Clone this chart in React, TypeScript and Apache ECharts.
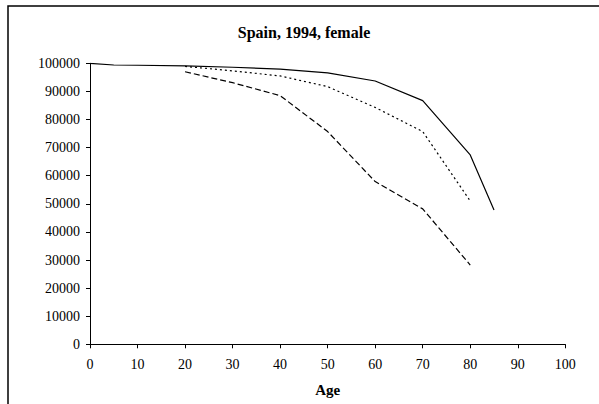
import React, { useEffect, useRef } from "react";
import * as echarts from "echarts";

const solidAges = [0, 5, 10, 20, 30, 40, 50, 60, 70, 80, 85];
const solidValues = [100000, 99400, 99300, 99050, 98600, 97950, 96600, 93700, 86700, 67400, 47800];

const dottedAges = [20, 30, 40, 50, 60, 70, 80];
const dottedValues = [98900, 97300, 95500, 91700, 84300, 75700, 51000];

const dashedAges = [20, 30, 40, 50, 60, 70, 80];
const dashedValues = [97000, 93100, 88500, 75700, 57900, 48200, 28200];

const titleText = "Spain, 1994, female";
const xName = "Age";

const FONT = "'Liberation Serif', 'DejaVu Serif', serif";

function pairs(xs: number[], ys: number[]) {
  return xs.map((x, i) => [x, ys[i]]);
}

export default function App() {
  const ref = useRef<HTMLDivElement>(null);
  useEffect(() => {
    if (!ref.current) return;
    const chart = echarts.init(ref.current, null, { renderer: "svg" });
    const lineBase = { type: "line", showSymbol: false, symbol: "none", silent: true };
    chart.setOption({
      animation: false,
      backgroundColor: "#fff",
      title: {
        text: titleText,
        left: 304,
        top: 24,
        padding: 0,
        textAlign: "center",
        textStyle: { fontFamily: FONT, fontSize: 16, fontWeight: "bold", color: "#000" },
      },
      graphic: [
        {
          type: "rect",
          shape: { x: 8, y: 6, width: 620, height: 420 },
          style: { fill: "none", stroke: "#000", lineWidth: 1.5 },
          silent: true,
        },
      ],
      grid: { left: 90, top: 63.3, right: 33.7, bottom: 59.7, containLabel: false },
      xAxis: {
        type: "value",
        min: 0,
        max: 100,
        interval: 10,
        name: xName,
        nameLocation: "middle",
        nameGap: 38,
        nameTextStyle: { fontFamily: FONT, fontSize: 15, fontWeight: "bold", color: "#000" },
        axisLine: { lineStyle: { color: "#000", width: 1 } },
        axisTick: { show: true, inside: false, length: 4, lineStyle: { color: "#000" } },
        axisLabel: { fontFamily: FONT, fontSize: 14, color: "#000", margin: 13 },
        splitLine: { show: false },
      },
      yAxis: {
        type: "value",
        min: 0,
        max: 100000,
        interval: 10000,
        axisLine: { show: true, lineStyle: { color: "#000", width: 1 } },
        axisTick: { show: true, inside: false, length: 4, lineStyle: { color: "#000" } },
        axisLabel: {
          fontFamily: FONT,
          fontSize: 14,
          color: "#000",
          margin: 10,
          formatter: (v: number) => String(v),
        },
        splitLine: { show: false },
      },
      series: [
        {
          ...lineBase,
          name: "solid",
          data: pairs(solidAges, solidValues),
          lineStyle: { color: "#000", width: 1.2, type: "solid" },
        },
        {
          ...lineBase,
          name: "dotted",
          data: pairs(dottedAges, dottedValues),
          lineStyle: { color: "#000", width: 1.2, type: [2, 3] },
        },
        {
          ...lineBase,
          name: "dashed",
          data: pairs(dashedAges, dashedValues),
          lineStyle: { color: "#000", width: 1.2, type: [6, 3] },
        },
      ],
    });
    return () => chart.dispose();
  }, []);
  return (
    <div
      ref={ref}
      style={{ position: "fixed", left: 0, top: 0, width: 599, height: 404 }}
    />
  );
}
